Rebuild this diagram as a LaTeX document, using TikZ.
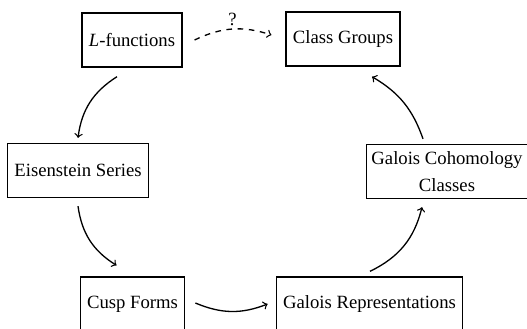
\documentclass[tikz,border=0pt]{standalone}
\usepackage{fontspec}
\setmainfont{Liberation Serif}
\usetikzlibrary{calc}
\begin{document}
\begin{tikzpicture}[x=0.535pt,y=-0.535pt,
  box/.style={draw, line width=0.7pt, inner xsep=3.65pt, inner ysep=2.5pt,
    minimum height=28.9pt, font=\rmfamily\fontsize{10}{14.4}\selectfont, align=center},
  conn/.style={->, line width=0.7pt}]
\clip (0,0) rectangle (527,328);
\node[box] (L) at (132,40) {\textit{L}-functions};
\node[box] (C) at (343,39) {Class Groups};
\node[box] (E) at (78,170.5) {Eisenstein Series};
\node[box, inner xsep=2.7pt] (H) at (447,171.5) {Galois Cohomology\\Classes};
\node[box] (F) at (132.5,304) {Cusp Forms};
\node[box] (R) at (369.5,304) {Galois Representations};
\draw[conn] ($(L.south)+(-15,9)$) to[bend right=25] ($(E.north)+(0,-5)$);
\draw[conn] ($(E.south)+(0,8)$) to[bend right=25] ($(F.north)+(-16,-11)$);
\draw[conn] ($(F.east)+(10,-1)$) to[bend right=22] ($(R.west)+(-8,0)$);
\draw[conn] ($(R.north)+(0.5,-5)$) to[bend right=25] ($(H.south)+(-25,8)$);
\draw[conn] ($(H.north)+(-24,-5)$) to[bend right=20] ($(C.south)+(29,10)$);
\draw[conn, dashed] ($(L.east)+(12,0)$) to[bend left=22]
  node[midway, above, inner sep=1.4pt, font=\rmfamily\fontsize{10}{12}\selectfont] (q) {?}
  ($(C.west)+(-14,-4)$);
\end{tikzpicture}
\end{document}
